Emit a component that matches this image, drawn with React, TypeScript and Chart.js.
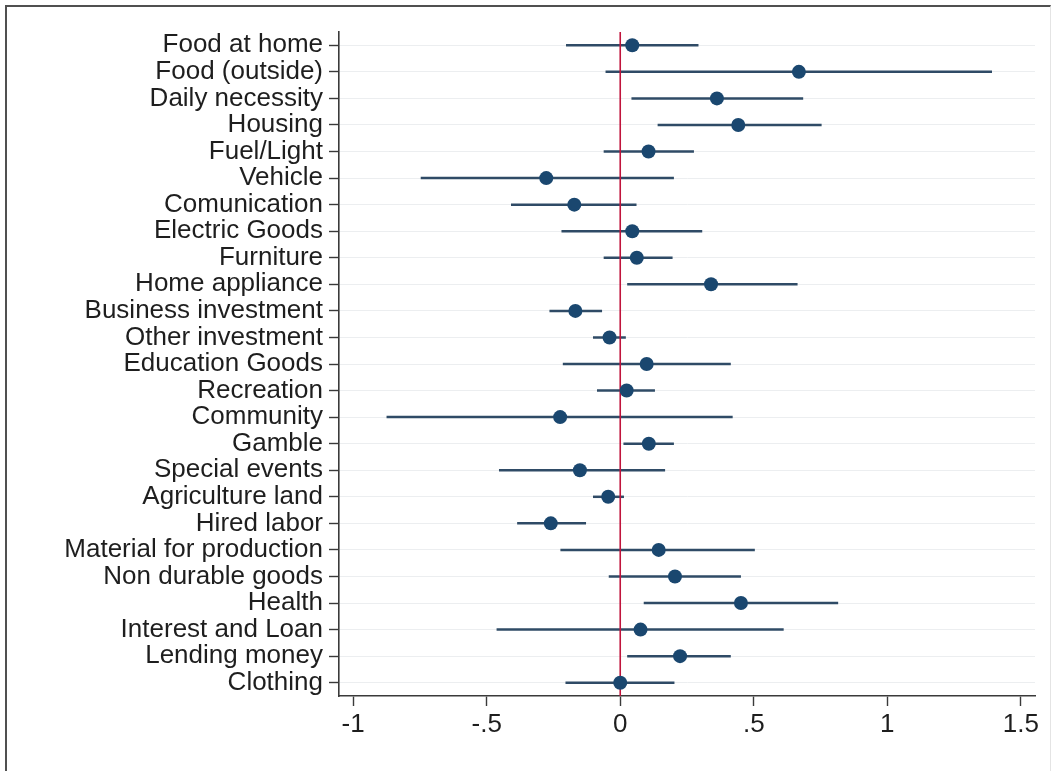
import React, { useEffect, useRef } from "react";
import { Chart, registerables } from "chart.js";

Chart.register(...registerables);

const categories: string[] = [
  "Food at home", "Food (outside)", "Daily necessity", "Housing", "Fuel/Light",
  "Vehicle", "Comunication", "Electric Goods", "Furniture", "Home appliance",
  "Business investment", "Other investment", "Education Goods", "Recreation",
  "Community", "Gamble", "Special events", "Agriculture land", "Hired labor",
  "Material for production", "Non durable goods", "Health", "Interest and Loan",
  "Lending money", "Clothing",
];

const estimates: number[] = [
  0.045, 0.669, 0.362, 0.442, 0.106, -0.277, -0.172, 0.045, 0.062, 0.340,
  -0.168, -0.040, 0.099, 0.024, -0.225, 0.107, -0.151, -0.045, -0.260,
  0.144, 0.205, 0.452, 0.076, 0.224, 0.0,
];

const lowerCI: number[] = [
  -0.203, -0.055, 0.042, 0.140, -0.062, -0.747, -0.409, -0.220, -0.062, 0.026,
  -0.265, -0.102, -0.215, -0.087, -0.875, 0.012, -0.454, -0.102, -0.386,
  -0.224, -0.043, 0.088, -0.463, 0.026, -0.205,
];

const upperCI: number[] = [
  0.293, 1.392, 0.685, 0.754, 0.276, 0.201, 0.061, 0.307, 0.196, 0.664,
  -0.068, 0.021, 0.414, 0.130, 0.421, 0.201, 0.168, 0.014, -0.128,
  0.504, 0.452, 0.816, 0.612, 0.414, 0.203,
];

const xTicks: number[] = [-1, -0.5, 0, 0.5, 1, 1.5];
const xMin = -1.053;
const xMax = 1.553;
const refLineValue = 0;

const FONT = "'Liberation Sans', Arial, sans-serif";
const NAVY = "#1a476f";
const CI_COLOR = "#2f4b66";
const AXIS_COLOR = "#3a3a3a";
const TEXT_COLOR = "#1e1e1e";

function fmtTick(v: number): string {
  if (v === 0) return "0";
  const s = String(v);
  return s.replace(/^(-?)0\./, "$1.");
}

export default function App() {
  const canvasRef = useRef<HTMLCanvasElement | null>(null);

  useEffect(() => {
    const canvas = canvasRef.current;
    if (!canvas) return;

    const ciPlugin = {
      id: "ciLines",
      beforeDatasetsDraw(chart: any) {
        const { ctx, scales, chartArea } = chart;
        const xs = scales.x;
        const ys = scales.y;
        ctx.save();
        ctx.strokeStyle = CI_COLOR;
        ctx.lineWidth = 2.5;
        ctx.lineCap = "butt";
        for (let i = 0; i < categories.length; i++) {
          const y = ys.getPixelForValue(i);
          ctx.beginPath();
          ctx.moveTo(xs.getPixelForValue(lowerCI[i]), y);
          ctx.lineTo(xs.getPixelForValue(upperCI[i]), y);
          ctx.stroke();
        }
        const rx = xs.getPixelForValue(refLineValue);
        ctx.strokeStyle = "#c0143c";
        ctx.lineWidth = 1.6;
        ctx.beginPath();
        ctx.moveTo(rx, chartArea.top);
        ctx.lineTo(rx, chartArea.bottom);
        ctx.stroke();
        ctx.restore();
      },
    };

    const chart = new Chart(canvas, {
      type: "scatter",
      data: {
        datasets: [
          {
            data: estimates.map((v, i) => ({ x: v, y: i })),
            backgroundColor: NAVY,
            borderColor: NAVY,
            pointRadius: 7,
            pointHoverRadius: 7,
            borderWidth: 0,
          },
        ],
      },
      options: {
        responsive: false,
        animation: false,
        events: [],
        layout: { padding: { top: 32, right: 18, left: 0, bottom: 0 } },
        plugins: {
          legend: { display: false },
          tooltip: { enabled: false },
        },
        scales: {
          x: {
            type: "linear",
            min: xMin,
            max: xMax,
            afterBuildTicks: (scale: any) => {
              scale.ticks = xTicks.map((v) => ({ value: v }));
            },
            afterFit: (scale: any) => {
              scale.height = 75;
            },
            border: { display: true, color: AXIS_COLOR, width: 1.6 },
            grid: {
              drawOnChartArea: false,
              drawTicks: true,
              tickLength: 10,
              tickColor: AXIS_COLOR,
              tickWidth: 1.4,
            },
            ticks: {
              color: TEXT_COLOR,
              font: { family: FONT, size: 26 },
              padding: 3,
              maxRotation: 0,
              autoSkip: false,
              callback: (v: any) => fmtTick(Number(v)),
            },
          },
          y: {
            type: "linear",
            min: -0.5,
            max: 24.5,
            reverse: true,
            afterBuildTicks: (scale: any) => {
              scale.ticks = categories.map((_, i) => ({ value: i }));
            },
            afterFit: (scale: any) => {
              scale.width = 339;
            },
            border: { display: true, color: AXIS_COLOR, width: 1.6 },
            grid: {
              drawOnChartArea: true,
              color: "#eceef0",
              lineWidth: 1,
              drawTicks: true,
              tickLength: 10,
              tickColor: AXIS_COLOR,
              tickWidth: 1.4,
            },
            ticks: {
              color: TEXT_COLOR,
              font: { family: FONT, size: 26 },
              padding: 6,
              autoSkip: false,
              callback: (v: any) => categories[Number(v)] ?? "",
            },
          },
        },
      },
      plugins: [ciPlugin],
    } as any);

    return () => chart.destroy();
  }, []);

  return (
    <div
      style={{
        position: "fixed",
        left: 0,
        top: 0,
        width: 1053,
        height: 771,
        background: "#fff",
        overflow: "hidden",
      }}
    >
      <canvas
        ref={canvasRef}
        width={1053}
        height={771}
        style={{ position: "absolute", left: 0, top: 0, width: 1053, height: 771 }}
      />
      <div
        style={{
          position: "absolute",
          left: 5,
          top: 5,
          width: 1043,
          height: 780,
          borderTop: "2px solid #505050",
          borderLeft: "2px solid #505050",
          borderRight: "1px solid #e4e4e4",
          pointerEvents: "none",
        }}
      />
    </div>
  );
}
